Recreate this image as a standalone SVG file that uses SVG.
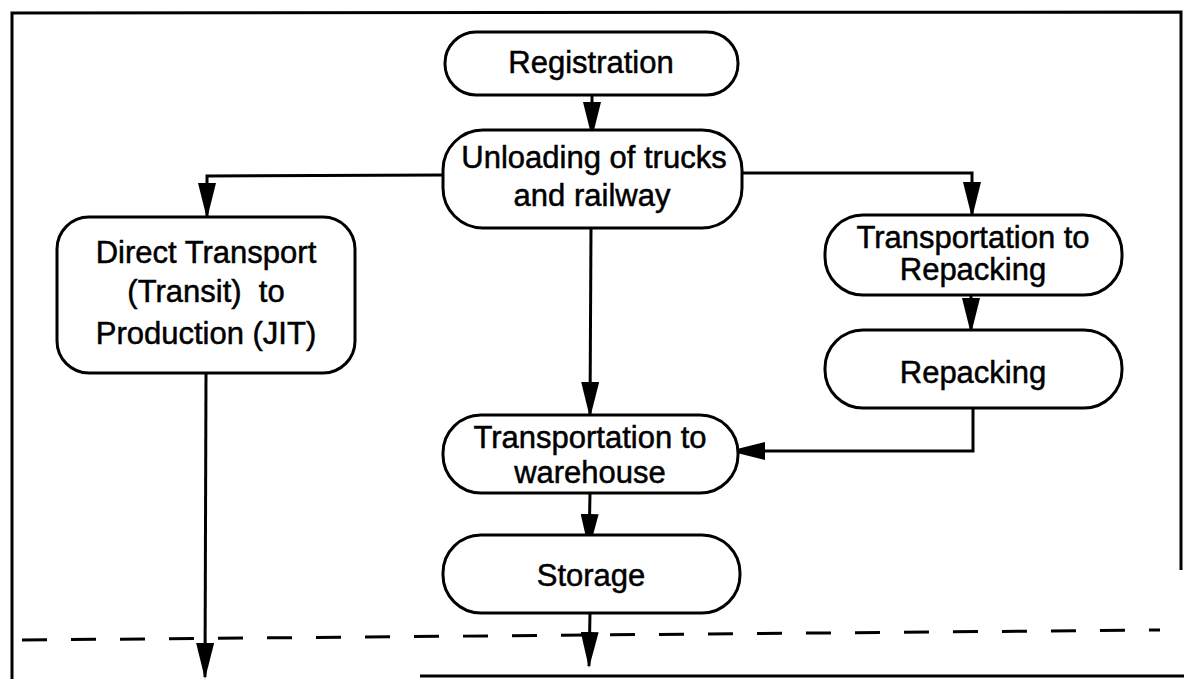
<svg xmlns="http://www.w3.org/2000/svg" width="1184" height="679" viewBox="0 0 1184 679">
<style>
  .box{fill:#fff;stroke:#000;stroke-width:3}
  .lbl{font-family:"Liberation Sans",Arial,sans-serif;font-size:31px;fill:#000;stroke:#000;stroke-width:0.5;text-anchor:middle}
  .con{fill:none;stroke:#000;stroke-width:3}
  .frame{fill:none;stroke:#000;stroke-width:3}
</style>
<defs>
  <marker id="ah" markerUnits="userSpaceOnUse" markerWidth="36" markerHeight="18" viewBox="0 0 36 18" refX="34" refY="9" orient="auto">
    <path d="M0,0 L36,9 L0,18 Z" fill="#000"/>
  </marker>
</defs>
<rect width="1184" height="679" fill="#fff"/>
<g id="frame">
  <polyline class="frame" points="12,679 12,13 1181,12 1181,570"/>
  <line x1="420" y1="676" x2="1184" y2="676" stroke="#000" stroke-width="3"/>
  <line x1="22" y1="640" x2="1160" y2="630" stroke="#000" stroke-width="3" stroke-dasharray="25,24"/>
</g>
<g id="connectors">
  <line class="con" x1="592" y1="95" x2="592" y2="136" marker-end="url(#ah)"/>
  <polyline class="con" points="443,175 207,176 207,217" marker-end="url(#ah)"/>
  <polyline class="con" points="742,173 972,173 972,216" marker-end="url(#ah)"/>
  <line class="con" x1="591" y1="228" x2="590" y2="416" marker-end="url(#ah)"/>
  <line class="con" x1="971" y1="295" x2="971" y2="332" marker-end="url(#ah)"/>
  <polyline class="con" points="973,408 973,451 731,451" marker-end="url(#ah)"/>
  <line class="con" x1="590" y1="493" x2="589" y2="548" marker-end="url(#ah)"/>
  <line class="con" x1="590" y1="613" x2="589" y2="666" marker-end="url(#ah)"/>
  <line class="con" x1="206" y1="373" x2="205" y2="677" marker-end="url(#ah)"/>
</g>
<g id="registration">
  <rect class="box" x="445" y="32" width="293" height="63" rx="31"/>
  <text class="lbl" x="591" y="73">Registration</text>
</g>
<g id="unloading">
  <rect class="box" x="443" y="130" width="299" height="98" rx="40"/>
  <text class="lbl" x="594" y="168">Unloading of trucks</text>
  <text class="lbl" x="592" y="206">and railway</text>
</g>
<g id="direct">
  <rect class="box" x="57" y="217" width="298" height="156" rx="32"/>
  <text class="lbl" x="206" y="263">Direct Transport</text>
  <text class="lbl" x="206" y="302" xml:space="preserve">(Transit)  to</text>
  <text class="lbl" x="206" y="344">Production (JIT)</text>
</g>
<g id="trans-repacking">
  <rect class="box" x="825" y="215" width="297" height="80" rx="38"/>
  <text class="lbl" x="973" y="248">Transportation to</text>
  <text class="lbl" x="973" y="280">Repacking</text>
</g>
<g id="repacking">
  <rect class="box" x="825" y="330" width="297" height="78" rx="38"/>
  <text class="lbl" x="973" y="383">Repacking</text>
</g>
<g id="trans-warehouse">
  <rect class="box" x="443" y="415" width="295" height="78" rx="38"/>
  <text class="lbl" x="590" y="448">Transportation to</text>
  <text class="lbl" x="590" y="483">warehouse</text>
</g>
<g id="storage">
  <rect class="box" x="443" y="535" width="297" height="78" rx="38"/>
  <text class="lbl" x="591" y="586">Storage</text>
</g>
</svg>
